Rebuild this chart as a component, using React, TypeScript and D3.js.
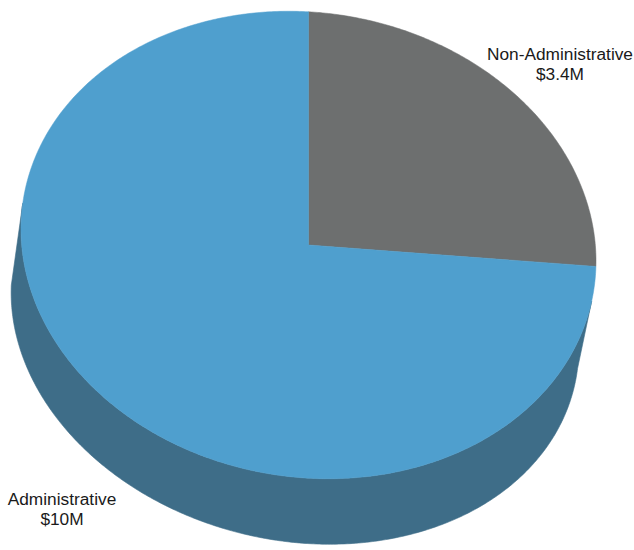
import React from "react";
import * as d3 from "d3";

// ---- data ----
const categories: string[] = ["Non-Administrative", "Administrative"];
const values: number[] = [3.4, 10];
const valueLabels: string[] = ["$3.4M", "$10M"];
const topColors: string[] = ["#6d6f6f", "#4f9fce"];
const sideColors: string[] = ["#4a4c4c", "#3e6d88"];

// ---- layout (projection of a tilted disc: top face and base ellipse) ----
const W = 634;
const H = 550;
type Pt = [number, number];
type Ell = { c: Pt; a: Pt; b: Pt };
const TOP: Ell = { c: [308.5, 245], a: [287.5, 16], b: [0, 233.2] };
const BASE: Ell = { c: [295, 320], a: [283, 10], b: [22, 224] };

function proj(e: Ell, theta: number): Pt {
  const s = Math.sin(theta);
  const c = -Math.cos(theta);
  return [e.c[0] + e.a[0] * s + e.b[0] * c, e.c[1] + e.a[1] * s + e.b[1] * c];
}

function angles(a0: number, a1: number): number[] {
  const n = Math.max(2, Math.ceil(Math.abs(a1 - a0) / 0.01));
  return d3.range(n + 1).map((i) => a0 + ((a1 - a0) * i) / n);
}

const line = d3.line();

export default function App() {
  const pie = d3
    .pie<number>()
    .sort(null)
    .startAngle(0)
    .endAngle(2 * Math.PI)
    .value((d) => d);
  const arcs = pie(values);

  // visible (front-facing) side faces, grouped in runs
  const sides: { d: string; color: string }[] = [];
  arcs.forEach((a, k) => {
    const th = angles(a.startAngle, a.endAngle);
    const tp = th.map((t) => proj(TOP, t));
    const bp = th.map((t) => proj(BASE, t));
    let run: number[] = [];
    const flush = () => {
      if (run.length > 1) {
        const poly: Pt[] = [...run.map((i) => tp[i]), ...run.map((i) => bp[i]).reverse()];
        sides.push({ d: line(poly) + "Z", color: sideColors[k] });
      }
      run = [];
    };
    for (let i = 0; i < th.length - 1; i++) {
      const ex = tp[i + 1][0] - tp[i][0];
      const ey = tp[i + 1][1] - tp[i][1];
      const dx = bp[i][0] - tp[i][0];
      const dy = bp[i][1] - tp[i][1];
      const cross = ex * dy - ey * dx;
      if (cross < 0) {
        if (run.length === 0) run.push(i);
        run.push(i + 1);
      } else {
        flush();
      }
    }
    flush();
  });

  const tops = arcs.map((a, k) => {
    const pts = angles(a.startAngle, a.endAngle).map((t) => proj(TOP, t));
    return { d: line([TOP.c, ...pts]) + "Z", color: topColors[k] };
  });

  const labelPos: Pt[] = [
    [560, 60],
    [62, 505],
  ];

  return (
    <svg
      width={W}
      height={H}
      style={{ position: "absolute", left: 0, top: 0, background: "#fff" }}
      fontFamily="'Liberation Sans', Arial, sans-serif"
    >
      {sides.map((s, i) => (
        <path key={"s" + i} d={s.d} fill={s.color} stroke={s.color} strokeWidth={0.6} />
      ))}
      {tops.map((t, i) => (
        <path key={"t" + i} d={t.d} fill={t.color} stroke={t.color} strokeWidth={0.5} />
      ))}
      {categories.map((c, i) => (
        <text key={"l" + i} x={labelPos[i][0]} y={labelPos[i][1]} textAnchor="middle" fontSize={17.3} fill="#1a1a1a">
          <tspan x={labelPos[i][0]}>{c}</tspan>
          <tspan x={labelPos[i][0]} dy={20}>
            {valueLabels[i]}
          </tspan>
        </text>
      ))}
    </svg>
  );
}
